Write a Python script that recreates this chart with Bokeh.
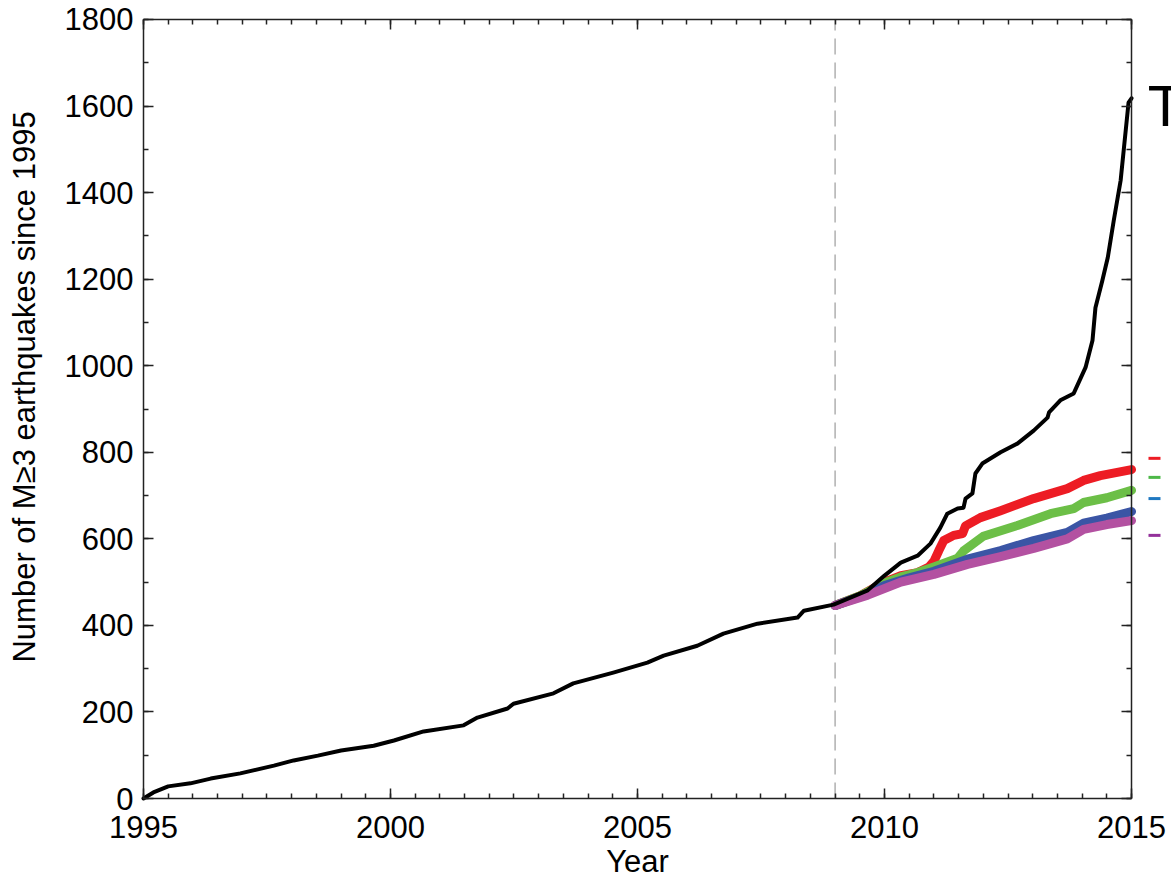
import numpy as np
from bokeh.plotting import figure
from bokeh.models import (Range1d, LinearAxis, Label, CustomJSTickFormatter, FixedTicker)
from bokeh.embed import file_html
from bokeh.resources import INLINE

# ---------------- data ----------------
obs_year = [1995.0, 1995.2, 1995.5, 1995.95, 1996.36, 1996.96, 1997.64, 1998.04,
            1998.53, 1999.0, 1999.66, 2000.07, 2000.67, 2001.48, 2001.76, 2002.37,
            2002.49, 2003.3, 2003.7, 2004.51, 2005.2, 2005.53, 2006.21, 2006.74,
            2007.43, 2008.24, 2008.37, 2008.97, 2009.66, 2010.0, 2010.33, 2010.67,
            2010.93, 2011.13, 2011.27, 2011.48, 2011.6, 2011.64, 2011.78, 2011.84,
            2011.98, 2012.35, 2012.69, 2013.02, 2013.3, 2013.33, 2013.56, 2013.83,
            2014.07, 2014.21, 2014.27, 2014.41, 2014.52, 2014.64, 2014.78, 2014.94,
            2015.0]
obs_count = [0, 14, 28, 35, 46, 58, 76, 88,
             99, 111, 122, 134, 155, 169, 187, 208,
             219, 243, 266, 291, 314, 330, 353, 381,
             404, 418, 434, 448, 481, 515, 545, 561,
             589, 626, 658, 670, 672, 693, 705, 751,
             774, 800, 820, 850, 880, 892, 920, 936,
             996, 1058, 1134, 1197, 1250, 1335, 1428, 1608,
             1618]

red_year = [2009.0, 2009.5, 2010.0, 2010.33, 2010.67, 2010.9, 2011.0, 2011.1, 2011.2,
            2011.4, 2011.58, 2011.64, 2011.94, 2012.35, 2013.02, 2013.7, 2014.03,
            2014.37, 2015.0]
red_count = [446, 468, 500, 515, 522, 535, 548, 573, 596,
             608, 612, 630, 649, 665, 693, 716, 735,
             746, 760]

green_year = [2009.0, 2009.5, 2010.0, 2010.33, 2010.67, 2011.0, 2011.48, 2011.6,
              2012.0, 2012.69, 2013.36, 2013.83, 2014.03, 2014.5, 2015.0]
green_count = [446, 468, 498, 512, 522, 535, 555, 572,
               606, 631, 658, 670, 684, 695, 712]

blue_year = [2009.0, 2009.5, 2010.0, 2010.5, 2011.0, 2011.68, 2012.35, 2013.02,
             2013.7, 2014.03, 2014.5, 2015.0]
blue_count = [446, 466, 492, 510, 525, 553, 573, 596,
              615, 636, 648, 663]

purple_year = [2009.0, 2009.66, 2010.33, 2011.0, 2011.68, 2012.35, 2013.02,
               2013.7, 2014.03, 2014.5, 2015.0]
purple_count = [446, 470, 500, 518, 541, 559, 578,
                600, 622, 633, 642]

x_ticks = [1995, 2000, 2005, 2010, 2015]
x_minor = [1995 + 0.5 * i for i in range(41)]
y_ticks = [0, 200, 400, 600, 800, 1000, 1200, 1400, 1600, 1800]
y_minor = list(range(0, 1801, 100))

split_year = 2009
legend_dash_counts = [786, 742, 693, 608]
legend_dash_colors = ["#ed1c24", "#4db848", "#1f78c1", "#93319a"]

FONT = "Liberation Sans"

X0, X1 = x_ticks[0], x_ticks[-1]
Y0, Y1 = y_ticks[0], y_ticks[-1]

# ---------------- figure ----------------
# the frame covers the whole canvas; axes are pinned at the data box edges
p = figure(width=1171, height=879, output_backend="svg", toolbar_location=None,
           x_range=Range1d(1992.1053, 2015.8097), y_range=Range1d(-187.16, 1843.9),
           min_border=0)
p.outline_line_color = None
p.xgrid.grid_line_color = None
p.ygrid.grid_line_color = None
p.background_fill_color = "white"
p.border_fill_color = "white"


def style_axis(ax, labels=True):
    ax.axis_line_color = "#222222"
    ax.axis_line_width = 1.5
    ax.major_tick_in = 10
    ax.major_tick_out = 0
    ax.minor_tick_in = 5
    ax.minor_tick_out = 0
    ax.major_tick_line_color = "#222222"
    ax.minor_tick_line_color = "#222222"
    ax.major_tick_line_width = 1.5
    ax.minor_tick_line_width = 1.5
    ax.major_label_text_font = FONT
    ax.major_label_text_font_size = "31px"
    ax.major_label_text_color = "black"
    if not labels:
        ax.formatter = CustomJSTickFormatter(code="return ''")
        ax.major_label_standoff = 0


xb = p.xaxis[0]
xb.ticker = FixedTicker(ticks=x_ticks, minor_ticks=x_minor)
xb.major_label_overrides = {t: str(t) for t in x_ticks}
xb.fixed_location = Y0
xb.bounds = (X0, X1)
style_axis(xb)
xb.major_label_standoff = 17

yl = p.yaxis[0]
yl.ticker = FixedTicker(ticks=y_ticks, minor_ticks=y_minor)
yl.major_label_overrides = {t: str(t) for t in y_ticks}
yl.fixed_location = X0
yl.bounds = (Y0, Y1)
style_axis(yl)
yl.major_label_standoff = 10

xt = LinearAxis(ticker=FixedTicker(ticks=x_ticks, minor_ticks=x_minor),
                fixed_location=Y1, bounds=(X0, X1))
style_axis(xt, labels=False)
p.add_layout(xt, "above")

yr = LinearAxis(ticker=FixedTicker(ticks=y_ticks, minor_ticks=y_minor),
                fixed_location=X1, bounds=(Y0, Y1))
style_axis(yr, labels=False)
p.add_layout(yr, "right")

# dashed vertical line at the split year
p.line([split_year, split_year], [Y0, Y1], line_color="#b0b0b0",
       line_width=1.5, line_dash="16 8")

# colored scenario curves
p.line(red_year, red_count, line_color="#ed1c24", line_width=9,
       line_cap="round", line_join="round")
p.line(green_year, green_count, line_color="#6cbf47", line_width=9,
       line_cap="round", line_join="round")
p.line(blue_year, blue_count, line_color="#3b55a5", line_width=9,
       line_cap="round", line_join="round")
p.line(purple_year, purple_count, line_color="#b351a1", line_width=9,
       line_cap="round", line_join="round")

# observed curve
p.line(obs_year, obs_count, line_color="black", line_width=4,
       line_cap="round", line_join="round")

# axis titles
p.add_layout(Label(x=1992.59, y=951, text="Number of M≥3 earthquakes since 1995",
                   angle=np.pi / 2, text_align="center", text_baseline="alphabetic",
                   text_font=FONT, text_font_size="31px", text_color="black"))
p.add_layout(Label(x=2005.0, y=-145, text="Year", text_align="center",
                   text_baseline="alphabetic", text_font=FONT,
                   text_font_size="31px", text_color="black"))

# partial legend at the right edge
p.add_layout(Label(x=2015.33, y=1601, text="T", text_align="left",
                   text_baseline="alphabetic", text_font=FONT,
                   text_font_size="58px", text_color="black"))
p.segment(x0=[2015.344] * 4, x1=[2015.587] * 4, y0=legend_dash_counts,
          y1=legend_dash_counts, line_color=legend_dash_colors, line_width=3)

open("out.html", "w").write(file_html(p, INLINE))
